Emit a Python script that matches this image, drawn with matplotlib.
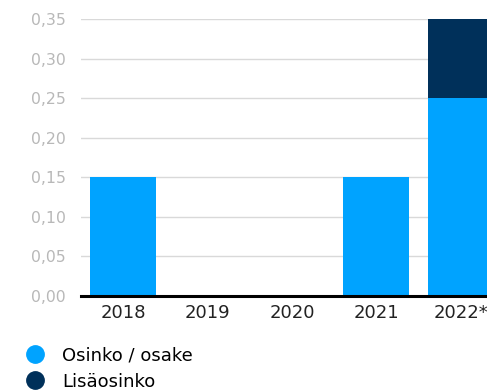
import matplotlib.pyplot as plt
from matplotlib.lines import Line2D

plt.rcParams['font.family'] = ['DejaVu Sans']

years = ["2018", "2019", "2020", "2021", "2022*"]
osinko = [0.15, 0.0, 0.0, 0.15, 0.25]
lisaosinko = [0.0, 0.0, 0.0, 0.0, 0.10]
yticks = [0.0, 0.05, 0.10, 0.15, 0.20, 0.25, 0.30, 0.35]

light_blue = '#00a3ff'
dark_blue = '#00305a'

fig = plt.figure(figsize=(4.87, 3.92), dpi=100)
# the plot area runs past the right edge of the image, like the original
ax = fig.add_axes([81 / 487, 96 / 392, 422 / 487, 277 / 392])

x = range(len(years))
ax.bar(x, osinko, width=0.78, color=light_blue, zorder=2)
ax.bar(x, lisaosinko, width=0.78, bottom=osinko, color=dark_blue, zorder=2)

ax.set_xlim(-0.5, len(years) - 0.5)
ax.set_ylim(0, 0.35)
ax.set_yticks(yticks)
ax.set_yticklabels([("%.2f" % v).replace(".", ",") for v in yticks])
ax.set_xticks(list(x))
ax.set_xticklabels(years)

ax.grid(axis='y', color='#d9d9d9', linewidth=1, zorder=0)
for s in ['top', 'right', 'left']:
    ax.spines[s].set_visible(False)
ax.spines['bottom'].set_color('black')
ax.spines['bottom'].set_linewidth(2.2)
ax.spines['bottom'].set_zorder(3)

ax.tick_params(axis='y', length=0, pad=11, labelsize=11.3, labelcolor='#b8b8b8')
ax.tick_params(axis='x', length=0, pad=6, labelsize=13, labelcolor='#222222')

handles = [
    Line2D([], [], marker='o', linestyle='', markersize=12.5, color=light_blue),
    Line2D([], [], marker='o', linestyle='', markersize=12.5, color=dark_blue),
]
fig.legend(handles, ["Osinko / osake", "Lisäosinko"], loc='upper left',
           bbox_to_anchor=(26 / 487, 0.116), frameon=False, fontsize=13,
           handletextpad=1.0, labelspacing=0.45, handlelength=1.0,
           borderaxespad=0, borderpad=0)

fig.savefig('out.png', dpi=100)
